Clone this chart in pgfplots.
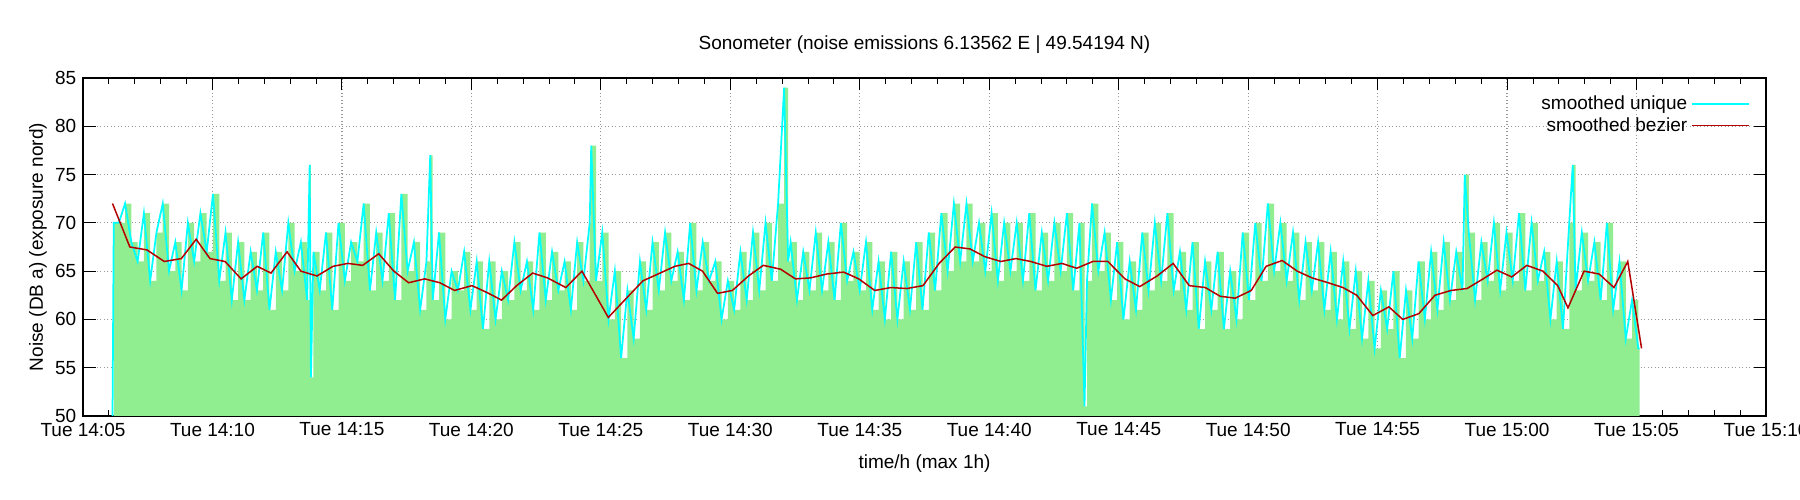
\documentclass[border=0pt]{standalone}
\usepackage{pgfplots}
\pgfplotsset{compat=1.18}
\usepackage{pgfplotstable}
\usepackage{fontspec}
\setmainfont{Liberation Sans}
\definecolor{lgreen}{RGB}{144,238,144}
\definecolor{dred}{RGB}{180,0,0}
\definecolor{cyn}{RGB}{0,255,255}
\pgfplotstableread{
x y
0.00 50
0.05 70
0.25 70
0.50 72
0.75 68
1.00 66
1.25 71
1.50 64
1.75 69
2.00 72
2.25 65
2.50 68
2.75 63
3.00 70
3.25 66
3.50 71
3.75 67
4.00 73
4.25 64
4.50 69
4.75 62
5.00 68
5.25 62
5.50 67
5.75 63
6.00 69
6.25 61
6.50 67
6.75 63
7.00 70
7.25 65
7.50 68
7.75 62
7.85 76
7.90 54
8.00 67
8.25 63
8.50 69
8.75 61
9.00 70
9.25 64
9.50 68
9.75 66
10.00 72
10.25 63
10.50 69
10.75 64
11.00 71
11.25 62
11.50 73
11.75 65
12.00 68
12.25 61
12.50 66
12.65 77
12.75 62
13.00 69
13.25 60
13.50 65
13.75 63
14.00 67
14.25 61
14.50 66
14.75 59
15.00 66
15.25 60
15.50 65
15.75 62
16.00 68
16.25 63
16.50 66
16.75 61
17.00 69
17.25 62
17.50 67
17.75 63
18.00 66
18.25 61
18.50 68
18.75 64
19.00 70
19.06 78
19.25 64
19.50 69
19.75 60
20.00 65
20.25 56
20.50 63
20.75 58
21.00 66
21.25 61
21.50 68
21.75 63
22.00 69
22.25 64
22.50 67
22.75 62
23.00 70
23.25 63
23.50 68
23.75 64
24.00 66
24.25 60
24.50 64
24.75 61
25.00 67
25.25 62
25.50 69
25.75 63
26.00 70
26.25 64
26.50 72
26.74 84
26.90 66
27.00 68
27.25 62
27.50 67
27.75 63
28.00 69
28.25 63
28.50 68
28.75 62
29.00 70
29.25 64
29.50 67
29.75 63
30.00 68
30.25 61
30.50 66
30.75 60
31.00 67
31.25 60
31.50 66
31.75 61
32.00 68
32.25 61
32.50 69
32.75 63
33.00 71
33.25 65
33.50 72
33.75 66
34.00 72
34.25 66
34.50 70
34.75 65
35.00 71
35.25 64
35.50 70
35.75 65
36.00 70
36.25 64
36.50 71
36.75 63
37.00 69
37.25 64
37.50 70
37.75 65
38.00 71
38.25 63
38.50 70
38.70 51
38.80 64
39.00 72
39.25 65
39.50 69
39.75 62
40.00 68
40.25 60
40.50 66
40.75 61
41.00 69
41.25 63
41.50 70
41.75 64
42.00 71
42.25 63
42.50 67
42.75 61
43.00 68
43.25 59
43.50 66
43.75 61
44.00 67
44.25 59
44.50 65
44.75 60
45.00 69
45.25 62
45.50 70
45.75 64
46.00 72
46.25 65
46.50 70
46.75 64
47.00 69
47.25 62
47.50 68
47.75 63
48.00 68
48.25 61
48.50 67
48.75 60
49.00 66
49.25 59
49.50 65
49.75 58
50.00 64
50.25 57
50.50 63
50.75 59
51.00 65
51.25 56
51.50 63
51.75 58
52.00 66
52.25 60
52.50 67
52.75 61
53.00 68
53.25 62
53.50 67
53.75 63
53.84 75
54.00 69
54.25 62
54.50 68
54.75 64
55.00 70
55.25 63
55.50 69
55.75 64
56.00 71
56.25 63
56.50 70
56.75 64
57.00 67
57.25 60
57.50 66
57.75 59
58.00 70
58.14 76
58.25 63
58.50 69
58.75 64
59.00 68
59.25 62
59.50 70
59.75 61
60.00 66
60.25 58
60.50 62
60.75 57
60.80 57
}\noise
\pgfplotstableread{
x y
0 72
0.69 67.5
1.37 67.2
2.06 66
2.74 66.3
3.33 68.3
3.88 66.3
4.48 66
5.12 64.2
5.76 65.5
6.31 64.8
6.95 67
7.5 65
8.14 64.5
8.78 65.5
9.37 65.8
9.96 65.6
10.6 66.8
11.2 65
11.79 63.8
12.43 64.2
13.03 63.8
13.62 63
14.31 63.5
14.9 62.8
15.49 62
16.09 63.5
16.73 64.8
17.32 64.3
18.05 63.3
18.69 65
19.74 60.2
20.57 62.5
21.12 64
21.8 64.8
22.39 65.5
22.94 65.8
23.49 65
24.09 62.7
24.68 63
25.32 64.5
25.91 65.6
26.6 65.2
27.19 64.2
27.79 64.3
28.43 64.7
29.11 64.9
29.71 64.2
30.35 63
30.99 63.3
31.63 63.2
32.27 63.5
32.91 65.8
33.55 67.5
34.14 67.3
34.73 66.5
35.37 66
35.97 66.3
36.56 66
37.2 65.5
37.8 65.8
38.39 65.3
39.03 66
39.63 66
40.31 64.2
40.9 63.4
41.59 64.5
42.23 65.8
42.87 63.5
43.51 63.3
44.1 62.4
44.7 62.2
45.34 63
45.93 65.5
46.57 66.1
47.17 65
47.76 64.3
48.4 63.8
48.99 63.3
49.54 62.5
50.18 60.4
50.82 61.3
51.37 60
52.01 60.6
52.65 62.5
53.29 63
53.93 63.2
54.57 64.2
55.12 65.1
55.71 64.4
56.31 65.6
56.95 65
57.54 63.5
57.95 61.2
58.59 65
59.19 64.7
59.78 63.3
60.33 66
60.88 57
}\bez
\begin{document}
\fontsize{7.6}{9}\selectfont
\begin{tikzpicture}[x=0.4pt,y=0.4pt]
\useasboundingbox (-83,-84) rectangle (1717,416);
\begin{axis}[at={(0,0)},anchor=south west,
 width=673.2pt,height=135.2pt,scale only axis,
 xmin=0,xmax=65,ymin=50,ymax=85,
 xtick={0,5,...,65},minor x tick num=4,
 xticklabels={Tue 14:05,Tue 14:10,Tue 14:15,Tue 14:20,Tue 14:25,Tue 14:30,Tue 14:35,Tue 14:40,Tue 14:45,Tue 14:50,Tue 14:55,Tue 15:00,Tue 15:05,Tue 15:10},
 ytick={50,55,...,85},
 tick align=inside,
 major tick length=5pt, minor tick length=2.5pt,
 tick style={black,line width=0.4pt},
 grid=major, grid style={gray!80,densely dotted,line width=0.5pt},
 axis line style={line width=0.6pt},
 x filter/.expression={1.14+0.97*x},
 ticklabel style={font=\fontsize{7.6}{9}\selectfont},
 /pgf/number format/assume math mode=true,
 xlabel={time/h (max 1h)}, ylabel={Noise (DB a) (exposure nord)},
 xlabel style={yshift=-2pt},
 ylabel style={yshift=-2pt},
 title={Sonometer (noise emissions 6.13562 E | 49.54194 N)},
 title style={yshift=1pt},
 legend style={at={(0.995,0.975)},anchor=north east,draw=none,fill=none,
   legend cell align=right,font=\fontsize{7.6}{9}\selectfont,
   row sep=-1pt},
 legend plot pos=right,
 every axis legend/.append style={nodes={inner sep=1.5pt}},
 legend image code/.code={\draw[#1] (0cm,0cm) -- (0.8cm,0cm);},
]
\addplot[const plot,fill=lgreen,draw=none,forget plot] table[x=x,y=y]{\noise} \closedcycle;
\addplot[cyn,line width=0.7pt] table[x=x,y=y]{\noise};
\addlegendentry{smoothed unique}
\addplot[dred,line width=0.6pt] table[x=x,y=y]{\bez};
\addlegendentry{smoothed bezier}
\end{axis}
\end{tikzpicture}
\end{document}
